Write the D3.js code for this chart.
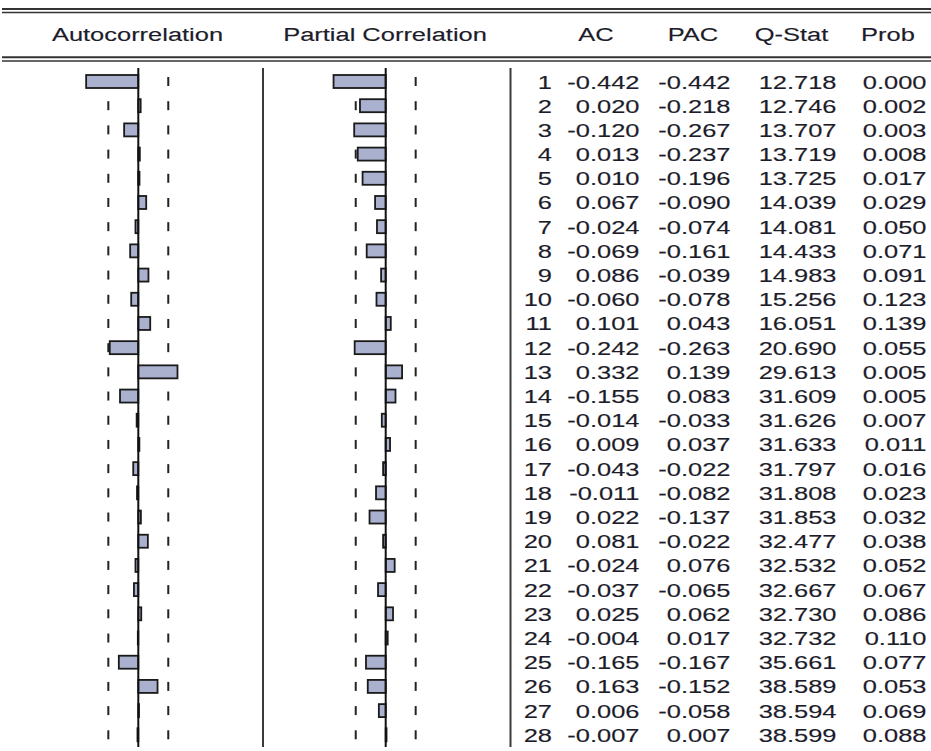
<!DOCTYPE html>
<html>
<head>
<meta charset="utf-8">
<script src="https://cdn.jsdelivr.net/npm/d3@7"></script>
<style>
  html, body { margin: 0; padding: 0; background: #fff; }
  svg { display: block; }
  text { font-family: "Liberation Sans", Arial, sans-serif; font-size: 19px; fill: #1c1c2a; stroke: #1c1c2a; stroke-width: 0.15px; }
</style>
</head>
<body>
<svg id="chart" width="931" height="751"></svg>
<script>
// correlogram values
var lags = d3.range(1, 29);
var acValues  = [-0.442, 0.020, -0.120, 0.013, 0.010, 0.067, -0.024, -0.069, 0.086, -0.060,
                  0.101, -0.242, 0.332, -0.155, -0.014, 0.009, -0.043, -0.011, 0.022, 0.081,
                 -0.024, -0.037, 0.025, -0.004, -0.165, 0.163, 0.006, -0.007];
var pacValues = [-0.442, -0.218, -0.267, -0.237, -0.196, -0.090, -0.074, -0.161, -0.039, -0.078,
                  0.043, -0.263, 0.139, 0.083, -0.033, 0.037, -0.022, -0.082, -0.137, -0.022,
                  0.076, -0.065, 0.062, 0.017, -0.167, -0.152, -0.058, 0.007];
var qStats    = [12.718, 12.746, 13.707, 13.719, 13.725, 14.039, 14.081, 14.433, 14.983, 15.256,
                 16.051, 20.690, 29.613, 31.609, 31.626, 31.633, 31.797, 31.808, 31.853, 32.477,
                 32.532, 32.667, 32.730, 32.732, 35.661, 38.589, 38.594, 38.599];
var probs     = [0.000, 0.002, 0.003, 0.008, 0.017, 0.029, 0.050, 0.071, 0.091, 0.123,
                 0.139, 0.055, 0.005, 0.005, 0.007, 0.011, 0.016, 0.023, 0.032, 0.038,
                 0.052, 0.067, 0.086, 0.110, 0.077, 0.053, 0.069, 0.088];
var confBound = 0.254;   // approx 2/sqrt(T)
var headers = ['Autocorrelation', 'Partial Correlation', 'AC', 'PAC', 'Q-Stat', 'Prob'];

var svg = d3.select('#chart');
var sx = 1.34;            // the reference text is stretched sideways
var barH = 13;
var lineColor = '#333';

var y = d3.scaleLinear().domain([1, 28]).range([81.5, 734.8]);
var xAC  = d3.scaleLinear().domain([-1, 1]).range([138.3 - 118, 138.3 + 118]);
var xPAC = d3.scaleLinear().domain([-1, 1]).range([385.7 - 118, 385.7 + 118]);

var fmt = d3.formatLocale({decimal: '.', thousands: ',', grouping: [3], currency: ['', ''], minus: '-'}).format('.3f');

//double rules
[[9, 2], [12.5, 1.5], [57.3, 2], [61, 1.5]].forEach(function (r) {
    svg.append('line')
        .attr('x1', 2).attr('x2', 931)
        .attr('y1', r[0]).attr('y2', r[0])
        .attr('stroke', lineColor).attr('stroke-width', r[1]);
});

// headers
var headerX = [137.5, 385, 596, 693, 791.5, 888];
svg.selectAll('.hdr').data(headers).enter()
    .append('text')
    .attr('class', 'hdr')
    .attr('text-anchor', 'middle')
    .attr('transform', function (d, i) { return 'translate(' + headerX[i] + ',40.5) scale(' + sx + ',1)'; })
    .text(function (d) { return d; });

// column separators
[263, 510.5].forEach(function (x) {
    svg.append('line')
        .attr('x1', x).attr('x2', x).attr('y1', 68).attr('y2', 747)
        .attr('stroke', '#3a3a3a').attr('stroke-width', 2);
});

function drawPanel(xs, values, cls) {
    var g = svg.append('g').attr('class', cls);

    // confidence dashes
    [-confBound, confBound].forEach(function (b) {
        g.selectAll('.dash' + (b < 0 ? 'L' : 'R')).data(lags).enter()
            .append('line')
            .attr('x1', xs(b)).attr('x2', xs(b))
            .attr('y1', function (d) { return y(d) - 4.5; })
            .attr('y2', function (d) { return y(d) + 4.5; })
            .attr('stroke', '#222').attr('stroke-width', 2);
    });

    g.selectAll('.bar').data(values).enter()
        .append('rect')
        .attr('class', 'bar')
        .attr('x', function (d) { return Math.min(xs(0), xs(d)); })
        .attr('y', function (d, i) { return y(lags[i]) - barH / 2; })
        .attr('width', function (d) { return Math.abs(xs(d) - xs(0)); })
        .attr('height', barH)
        .attr('fill', '#aab1cf')
        .attr('stroke', '#1a1a1a')
        .attr('stroke-width', 1.8);

    // zero line
    g.append('line')
        .attr('x1', xs(0)).attr('x2', xs(0)).attr('y1', 68).attr('y2', 747)
        .attr('stroke', '#111').attr('stroke-width', 2);
}

drawPanel(xAC, acValues, 'ac-panel');
drawPanel(xPAC, pacValues, 'pac-panel');

// table columns
var columns = [
    {right: 552, vals: lags, f: function (d) { return String(d); }},
    {right: 639.5, vals: acValues, f: fmt},
    {right: 730.5, vals: pacValues, f: fmt},
    {right: 836.5, vals: qStats, f: fmt},
    {right: 926.5, vals: probs, f: fmt}
];

columns.forEach(function (col, ci) {
    svg.selectAll('.col' + ci).data(col.vals).enter()
        .append('text')
        .attr('class', 'col' + ci)
        .attr('text-anchor', 'end')
        .attr('transform', function (d, i) { return 'translate(' + col.right + ',' + (y(lags[i]) + 7) + ') scale(' + sx + ',1)'; })
        .text(col.f);
});
</script>
</body>
</html>
